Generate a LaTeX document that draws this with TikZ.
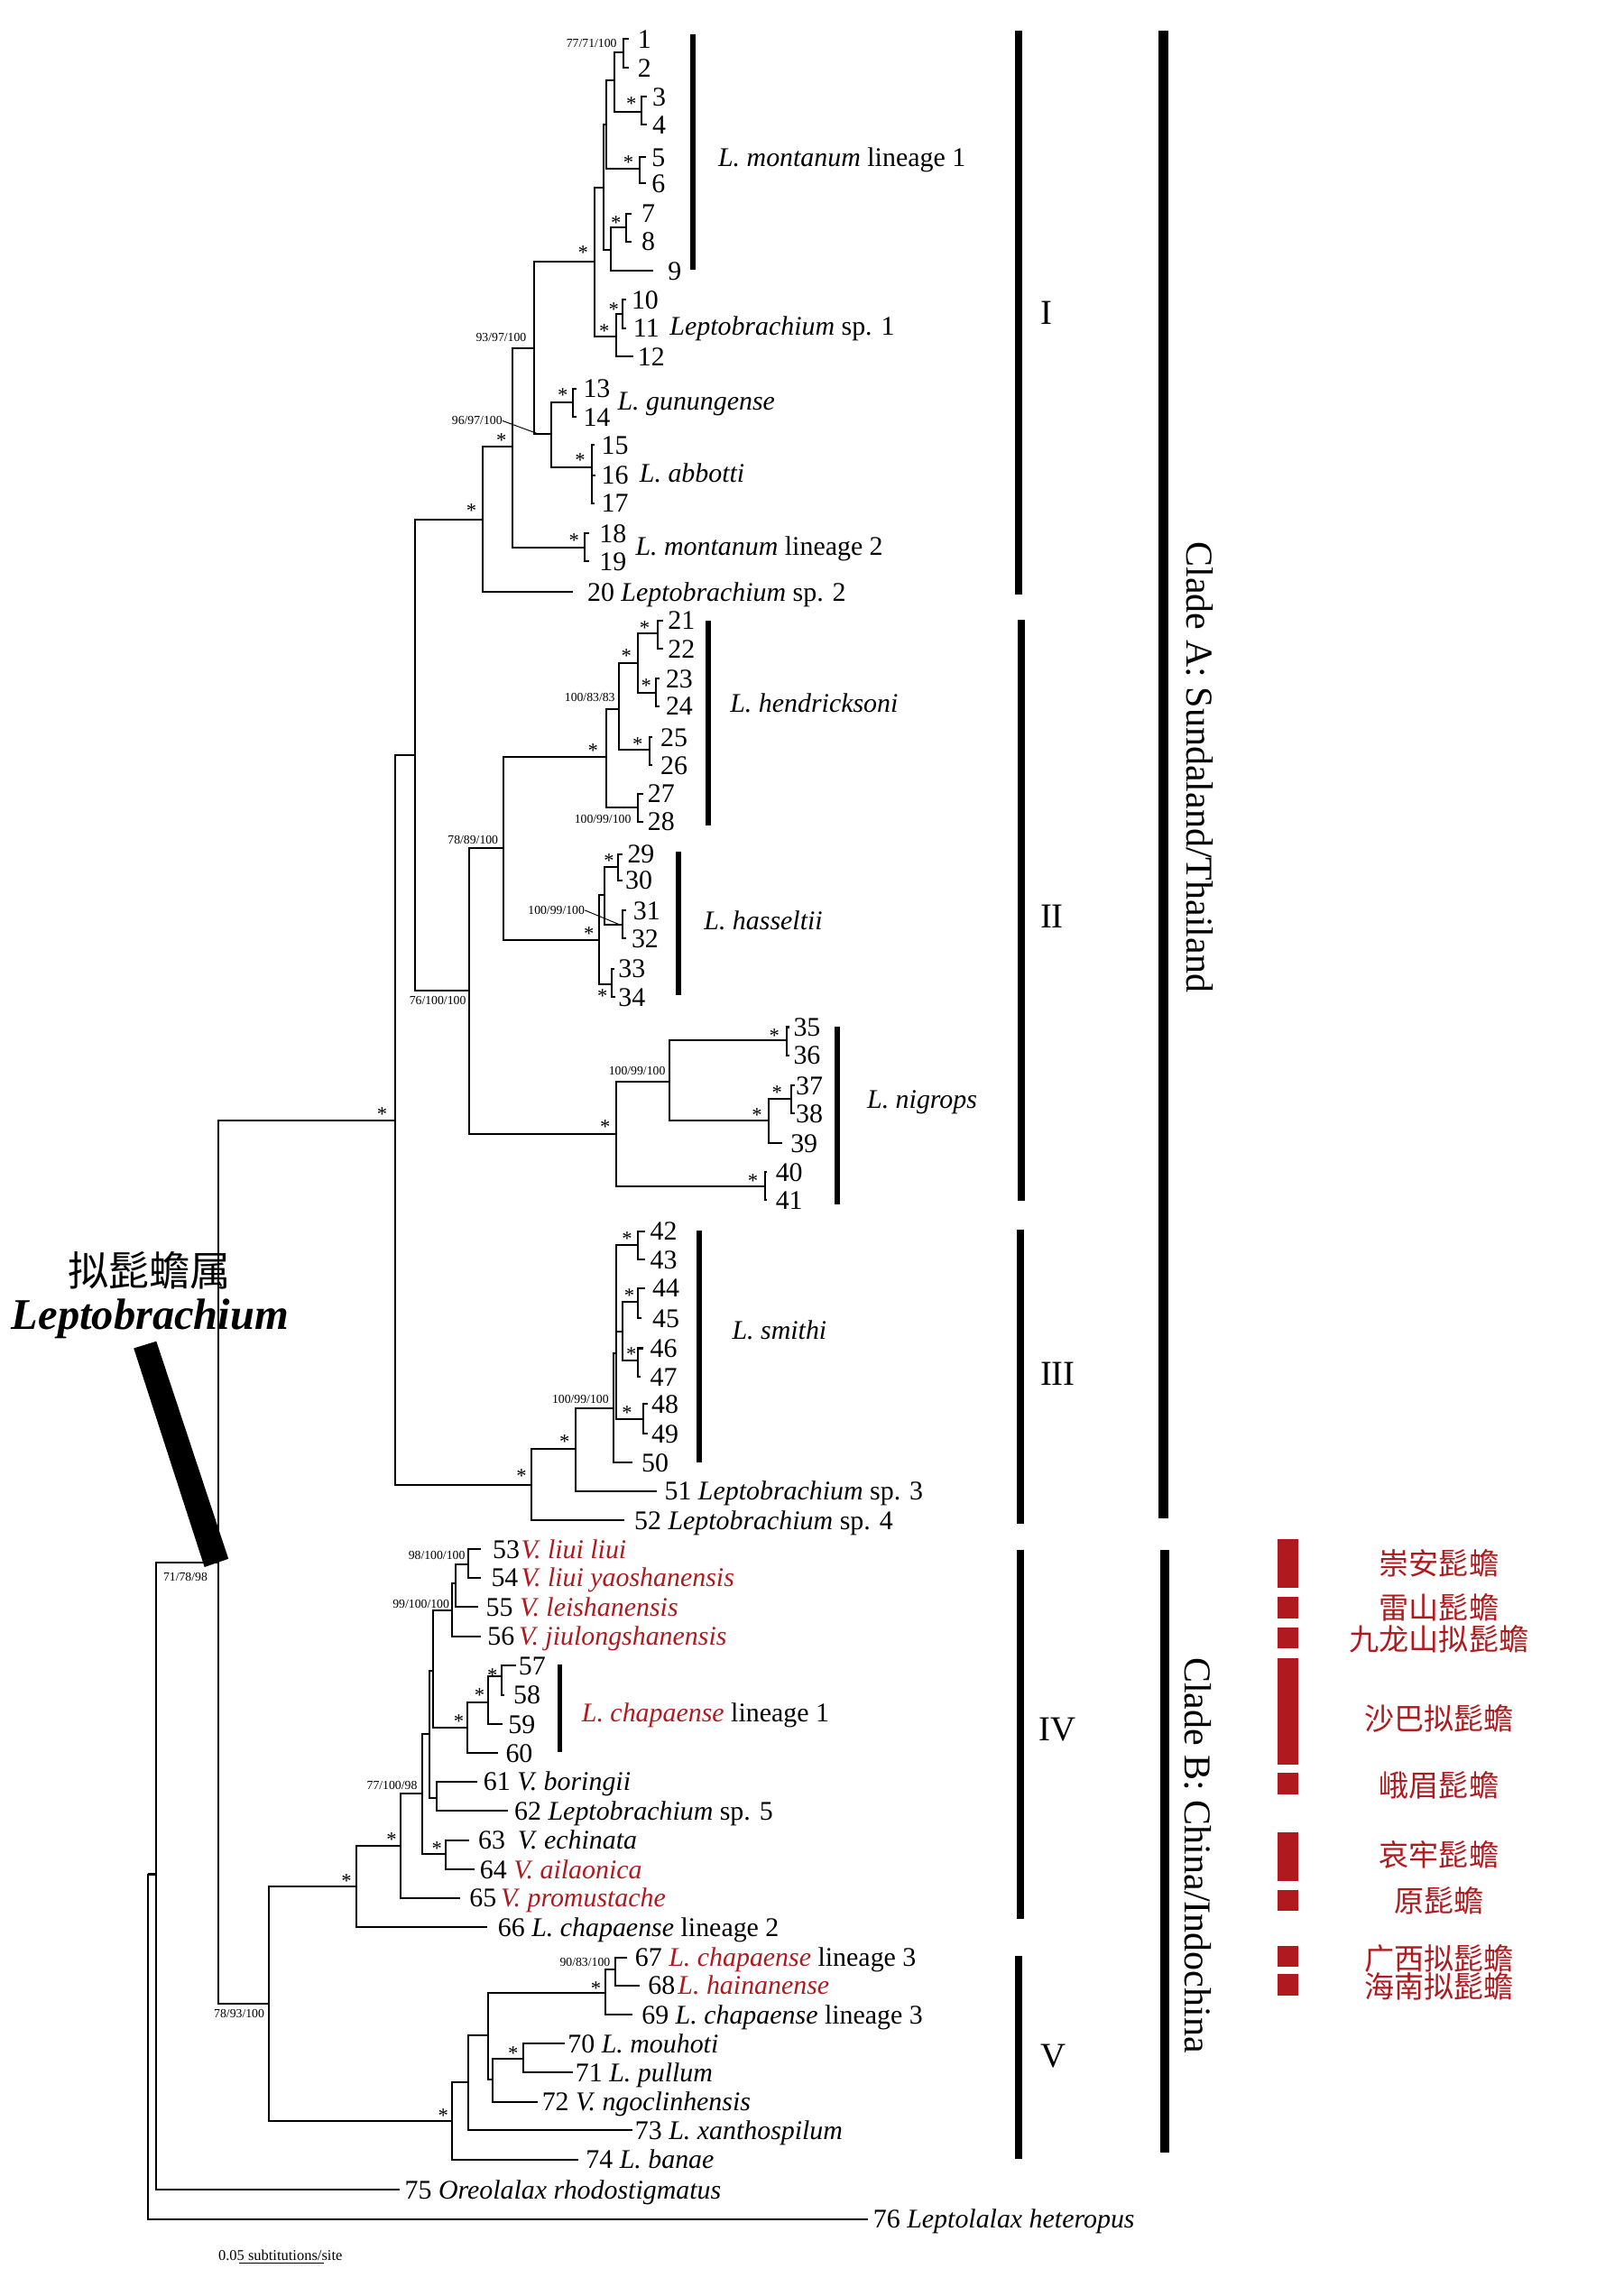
\documentclass[tikz,border=0pt]{standalone}
\usepackage{fontspec}
\setmainfont{Liberation Serif}
\newfontfamily\cjk{Noto Sans CJK SC}
\definecolor{cred}{RGB}{176,26,30}
\begin{document}
\begin{tikzpicture}[x=1pt,y=-1pt,
  branch/.style={line width=1.25pt},
  tiplab/.style={anchor=west,inner sep=0pt,font=\fontsize{18.5}{20}\selectfont,text height=12.5pt,text depth=0pt},
  suplab/.style={anchor=east,inner sep=0pt,font=\fontsize{8.5}{9}\selectfont},
  starlab/.style={inner sep=0pt,font=\fontsize{14}{14}\selectfont,yshift=-2.2pt},
  grpbar/.style={line width=3.6pt},
  cladebar/.style={line width=5pt},
  bigbar/.style={line width=6.6pt},
  cladenum/.style={anchor=west,inner sep=0pt,font=\fontsize{24}{24}\selectfont},
  cladetxt/.style={rotate=-90,inner sep=0pt,font=\fontsize{26}{26}\selectfont},
  redbar/.style={fill=cred,draw=none},
  cnlab/.style={font=\cjk\fontsize{20.5}{21}\selectfont,text=cred,inner sep=0pt},
  leader/.style={line width=0.6pt}]
\useasboundingbox (0,0) rectangle (1113,1568);
\newcommand{\rt}[1]{\textcolor{cred}{\textit{#1}}}

% ---------- genus label and pointer bar ----------
\node[inner sep=0pt,font=\cjk\fontsize{28}{28}\selectfont] (gcn) at (102.5,871) {拟髭蟾属};
\node[inner sep=0pt,font=\fontsize{30}{30}\selectfont\bfseries\itshape] (glat) at (103,904) {Leptobrachium};
\fill (91.7,924.4) -- (107.2,919.6) -- (156.6,1068.7) -- (140.2,1074.4) -- cycle;

% ---------- internal nodes ----------
\coordinate (R) at (101.6,1285);
\coordinate (Ning) at (107,1285);
\coordinate (Lep) at (149.5,1071.3);
\coordinate (CA) at (271.1,768);
\coordinate (CB) at (184.3,1374);
\coordinate (A12) at (284.5,517.8);
\coordinate (AI) at (331.2,356.1);
\coordinate (AII) at (321.6,679.3);
\coordinate (A3) at (364.3,1018.2);
% clade I
\coordinate (n1x19) at (351.4,306.4);
\coordinate (n1x17) at (366,238.8);
\coordinate (n1x12) at (407.4,179.4);
\coordinate (n1x9) at (413.5,128.4);
\coordinate (n1x6) at (415.7,85.6);
\coordinate (n1x4) at (421,55.2);
\coordinate (n1x2) at (427.3,35.9);
\coordinate (n3x4) at (439.7,76.5);
\coordinate (n5x6) at (438.3,115.9);
\coordinate (n7x9) at (418.5,171.1);
\coordinate (n7x8) at (429.5,156);
\coordinate (n10x12) at (422.3,230.5);
\coordinate (n10x11) at (426.7,215.3);
\coordinate (n13x17) at (378.2,297.6);
\coordinate (n13x14) at (392.8,276);
\coordinate (n15x17) at (405.8,320.2);
\coordinate (n18x19) at (401.1,375.4);
% clade II
\coordinate (n21x34) at (345,581.3);
\coordinate (n21x28) at (415.4,519.2);
\coordinate (n21x26) at (424.5,486.1);
\coordinate (n21x24) at (437,454.9);
\coordinate (n21x22) at (450.8,434.2);
\coordinate (n23x24) at (449.4,475.1);
\coordinate (n25x26) at (445.2,514.2);
\coordinate (n27x28) at (437,553.7);
\coordinate (n29x34) at (410.7,644.3);
\coordinate (n29x32) at (414.3,613.6);
\coordinate (n29x30) at (423.7,594.3);
\coordinate (n31x32) at (426.5,633.8);
\coordinate (n33x34) at (419.6,674.6);
\coordinate (n35x41) at (422.3,777.3);
\coordinate (n35x39) at (459,741.4);
\coordinate (n35x36) at (539.6,713.3);
\coordinate (n37x39) at (526.7,768.5);
\coordinate (n37x38) at (542.7,753.3);
\coordinate (n40x41) at (524.5,813.2);
% clade III
\coordinate (n42x51) at (394.7,993.4);
\coordinate (n42x50) at (420.5,965.6);
\coordinate (n42x49) at (422.5,927.5);
\coordinate (n44x47) at (427,913);
\coordinate (n42x43) at (437.6,853.3);
\coordinate (n44x45) at (437.6,892.4);
\coordinate (n46x47) at (437.6,932.6);
\coordinate (n48x49) at (441.2,972.8);
% clade IV
\coordinate (nIV) at (244.6,1293.5);
\coordinate (n53x65) at (274.5,1265.6);
\coordinate (n53x64) at (289.7,1229.8);
\coordinate (n53x62) at (294.3,1188.6);
\coordinate (n63x64) at (305.7,1271);
\coordinate (n53x60) at (296.8,1145.4);
\coordinate (n61x62) at (299.3,1232.5);
\coordinate (n53x56) at (310,1104.1);
\coordinate (n53x55) at (312.1,1085.7);
\coordinate (n53x54) at (321,1072.3);
\coordinate (n57x60) at (320.6,1184.6);
\coordinate (n57x59) at (334.8,1167.1);
\coordinate (n57x58) at (344,1149.4);
% clade V
\coordinate (nV) at (310,1454.3);
\coordinate (n67x73) at (321,1427.5);
\coordinate (n67x72) at (334.8,1395.7);
\coordinate (n70x72) at (337.6,1425.8);
\coordinate (n70x71) at (359,1411.5);
\coordinate (n67x69) at (415,1366.5);
\coordinate (n67x68) at (422.1,1350.4);

% ---------- tips ----------
\foreach \n/\x/\y in {1/431.4/26.8,2/431.4/46.4,3/443.5/66.2,4/443.5/85.6,5/443/107.7,6/443/125.6,
  7/433/146.3,8/433/165.6,9/448/185.5,10/429/205.6,11/429/225,12/434.2/244.3,13/395/266.4,14/395/285.7,
  15/407.5/305,16/408.5/325.7,17/407.5/345,18/404/365.7,19/404/385,20/392.8/405.8,
  21/454.4/425.4,22/454.4/444.7,23/452/465.4,24/452/484.2,25/447.5/505.4,26/447.5/524.7,27/441/544.1,
  28/441/563.4,29/426.5/585.5,30/426.5/603.4,31/429/624.1,32/429/643.4,33/421/664.1,34/422/683.5,
  35/541.5/704.2,36/541.5/723.5,37/545/744.2,38/545/763.5,39/536.3/783.7,40/526/803.5,41/526/822.8,
  42/442.5/844,43/442.5/863.6,44/442.5/883.2,45/439.5/903.8,46/441/924.4,47/439/944,48/444/962.5,
  49/444/983.1,50/433.8/1002.7,51/450/1022.3,52/427.9/1042.5,
  53/329.8/1062.3,54/329.8/1081.7,55/327.7/1101.8,56/329.8/1121.9,57/353.6/1142,58/346/1162.1,
  59/344.7/1182.2,60/341.2/1202,61/327/1221.4,62/348.3/1241.5,63/321.7/1261.7,64/325.2/1281.8,
  65/315.6/1301.2,66/334/1321.3,67/430/1342,68/438.8/1361.2,69/433.5/1381.3,70/387.3/1401,
  71/392.7/1421,72/368.9/1440.9,73/433.5/1460.4,74/396.2/1480.5,75/273.8/1501.2,76/595/1521.4}
  {\coordinate (t\n) at (\x,\y);}

% ---------- branches ----------
\foreach \p/\c in {R/Ning,R/t76,Ning/Lep,Ning/t75,Lep/CA,Lep/CB,CA/A12,CA/A3,A12/AI,A12/AII,
  AI/n1x19,AI/t20,n1x19/n1x17,n1x19/n18x19,n1x17/n1x12,n1x17/n13x17,n1x12/n1x9,n1x12/n10x12,
  n1x9/n1x6,n1x9/n7x9,n1x6/n1x4,n1x6/n5x6,n1x4/n1x2,n1x4/n3x4,n1x2/t1,n1x2/t2,n3x4/t3,n3x4/t4,
  n5x6/t5,n5x6/t6,n7x9/n7x8,n7x9/t9,n7x8/t7,n7x8/t8,n10x12/n10x11,n10x12/t12,n10x11/t10,n10x11/t11,
  n13x17/n13x14,n13x17/n15x17,n13x14/t13,n13x14/t14,n15x17/t15,n15x17/t16,n15x17/t17,
  n18x19/t18,n18x19/t19,
  AII/n21x34,AII/n35x41,n21x34/n21x28,n21x34/n29x34,n21x28/n21x26,n21x28/n27x28,
  n21x26/n21x24,n21x26/n25x26,n21x24/n21x22,n21x24/n23x24,n21x22/t21,n21x22/t22,
  n23x24/t23,n23x24/t24,n25x26/t25,n25x26/t26,n27x28/t27,n27x28/t28,n29x34/n29x32,n29x34/n33x34,
  n29x32/n29x30,n29x32/n31x32,n29x30/t29,n29x30/t30,n31x32/t31,n31x32/t32,n33x34/t33,n33x34/t34,
  n35x41/n35x39,n35x41/n40x41,n35x39/n35x36,n35x39/n37x39,n35x36/t35,n35x36/t36,
  n37x39/n37x38,n37x39/t39,n37x38/t37,n37x38/t38,n40x41/t40,n40x41/t41,
  A3/n42x51,A3/t52,n42x51/n42x50,n42x51/t51,n42x50/n42x49,n42x50/t50,n42x49/n42x43,
  n42x49/n44x47,n42x49/n48x49,n44x47/n44x45,n44x47/n46x47,n42x43/t42,n42x43/t43,
  n44x45/t44,n44x45/t45,n46x47/t46,n46x47/t47,n48x49/t48,n48x49/t49,
  CB/nIV,CB/nV,nIV/n53x65,nIV/t66,n53x65/n53x64,n53x65/t65,n53x64/n53x62,n53x64/n63x64,
  n63x64/t63,n63x64/t64,n53x62/n53x60,n53x62/n61x62,n61x62/t61,n61x62/t62,n53x60/n53x56,
  n53x60/n57x60,n53x56/n53x55,n53x56/t56,n53x55/n53x54,n53x55/t55,n53x54/t53,n53x54/t54,
  n57x60/n57x59,n57x60/t60,n57x59/n57x58,n57x59/t59,n57x58/t57,n57x58/t58,
  nV/n67x73,nV/t74,n67x73/n67x72,n67x73/t73,n67x72/n67x69,n67x72/n70x72,n70x72/n70x71,
  n70x72/t72,n70x71/t70,n70x71/t71,n67x69/n67x68,n67x69/t69,n67x68/t67,n67x68/t68}
  {\draw[branch] (\p) |- (\c);}

% ---------- tip labels ----------
\foreach \n/\x/\y in {1/437/26.8,2/437/46.4,3/447/66.2,4/447/85.6,5/446.6/107.7,6/446.6/125.6,
  7/439.7/146.3,8/439.7/165.6,9/457.7/185.5,10/432.8/205.6,11/434/225,12/437/244.3,
  13/399.7/266.4,14/399.7/285.7,15/412.1/305,16/412.1/325.7,17/412.1/345,18/410.7/365.7,19/410.7/385,
  21/457.7/425.4,22/457.7/444.7,23/456.3/465.4,24/456.3/484.2,25/452.7/505.4,26/452.7/524.7,
  27/443.8/544.1,28/443.8/563.4,29/430/585.5,30/428.5/603.4,31/434/624.1,32/432.8/643.4,
  33/423.7/664.1,34/423.7/683.5,35/543.8/704.2,36/543.8/723.5,37/545.4/744.2,38/545.4/763.5,
  39/541.8/783.7,40/531.6/803.5,41/531.6/822.8,
  42/445.6/844,43/445.6/863.6,44/447.1/883.2,45/447.1/903.8,46/445.6/924.4,47/445.6/944,
  48/446.5/962.5,49/446.5/983.1,50/439.7/1002.7,
  57/355.4/1142,58/351.8/1162.1,59/348.3/1182.2,60/346.5/1202}
  {\node[tiplab] (L\n) at (\x,\y) {\n};}
\node[tiplab] (L20) at (402.5,405.8) {20 \textit{Leptobrachium} sp. 2};
\node[tiplab] (L51) at (455.4,1022.3) {51 \textit{Leptobrachium} sp. 3};
\node[tiplab] (L52) at (434.7,1042.5) {52 \textit{Leptobrachium} sp. 4};
\node[tiplab] (L53) at (337.6,1062.3) {53\kern1pt\rt{V. liui liui}};
\node[tiplab] (L54) at (336.6,1081.7) {54\kern2pt\rt{V. liui yaoshanensis}};
\node[tiplab] (L55) at (333,1101.8) {55 \rt{V. leishanensis}};
\node[tiplab] (L56) at (334,1121.9) {56\kern3pt\rt{V. jiulongshanensis}};
\node[tiplab] (L61) at (331.3,1221.4) {61 \textit{V. boringii}};
\node[tiplab] (L62) at (352.5,1241.5) {62 \textit{Leptobrachium} sp. 5};
\node[tiplab] (L63) at (327.7,1261.7) {63\kern8.5pt\textit{V. echinata}};
\node[tiplab] (L64) at (328.8,1281.8) {64 \rt{V. ailaonica}};
\node[tiplab] (L65) at (321.7,1301.2) {65\kern3pt\rt{V. promustache}};
\node[tiplab] (L66) at (341.2,1321.3) {66 \textit{L. chapaense} lineage 2};
\node[tiplab] (L67) at (435.2,1342) {67 \rt{L. chapaense} lineage 3};
\node[tiplab] (L68) at (444.1,1361.2) {68\kern2pt\rt{L. hainanense}};
\node[tiplab] (L69) at (439.8,1381.3) {69 \textit{L. chapaense} lineage 3};
\node[tiplab] (L70) at (389.1,1401) {70 \textit{L. mouhoti}};
\node[tiplab] (L71) at (394.4,1421) {71 \textit{L. pullum}};
\node[tiplab] (L72) at (371.4,1440.9) {72 \textit{V. ngoclinhensis}};
\node[tiplab] (L73) at (435.2,1460.4) {73 \textit{L. xanthospilum}};
\node[tiplab] (L74) at (401.5,1480.5) {74 \textit{L. banae}};
\node[tiplab] (L75) at (277.3,1501.2) {75 \textit{Oreolalax rhodostigmatus}};
\node[tiplab] (L76) at (598.5,1521.4) {76 \textit{Leptolalax heteropus}};

% ---------- group labels ----------
\node[tiplab] (G1) at (492.2,107.7) {\textit{L. montanum} lineage 1};
\node[tiplab] (G2) at (459,223.6) {\textit{Leptobrachium} sp. 1};
\node[tiplab] (G3) at (423.2,274.6) {\textit{L. gunungense}};
\node[tiplab] (G4) at (438.3,324.3) {\textit{L. abbotti}};
\node[tiplab] (G5) at (435.6,374.6) {\textit{L. montanum} lineage 2};
\node[tiplab] (G6) at (500.4,482) {\textit{L. hendricksoni}};
\node[tiplab] (G7) at (482.5,631) {\textit{L. hasseltii}};
\node[tiplab] (G8) at (594.3,753.8) {\textit{L. nigrops}};
\node[tiplab] (G9) at (501.8,912) {\textit{L. smithi}};
\node[tiplab] (G10) at (398.7,1174.5) {\rt{L. chapaense} lineage 1};

% ---------- group bars ----------
\foreach \i/\x/\ya/\yb in {1/475/23.5/185,2/485.8/425.4/566.1,3/465.1/584/682.1,4/574.1/704.2/825.6,
  5/479.6/843.4/1002.7,6/383.8/1141/1201.3}
  {\coordinate (ga\i) at (\x,\ya); \coordinate (gb\i) at (\x,\yb); \draw[grpbar] (ga\i) -- (gb\i);}

% ---------- clade bars ----------
\foreach \i/\x/\ya/\yb in {1/698.5/21.3/407.6,2/700.3/425/823,3/699.7/843/1045,4/699.7/1062.6/1315.7,5/698.5/1340.8/1480}
  {\coordinate (ca\i) at (\x,\ya); \coordinate (cb\i) at (\x,\yb); \draw[cladebar] (ca\i) -- (cb\i);}
\node[cladenum] (cI) at (713.5,214.5) {I};
\node[cladenum] (cII) at (713,628) {II};
\node[cladenum] (cIII) at (713,942) {III};
\node[cladenum] (cIV) at (712,1186) {IV};
\node[cladenum] (cV) at (713.5,1410) {V};
\coordinate (bAa) at (797.5,21.3); \coordinate (bAb) at (797.5,1041);
\coordinate (bBa) at (798.5,1062.6); \coordinate (bBb) at (798.5,1476);
\draw[bigbar] (bAa) -- (bAb);
\draw[bigbar] (bBa) -- (bBb);
\node[cladetxt] (cladeA) at (822.5,526) {Clade A: Sundaland/Thailand};
\node[cladetxt] (cladeB) at (821.5,1272) {Clade B: China/Indochina};

% ---------- red bars and Chinese names ----------
\foreach \ya/\yb in {1055/1088.5,1095/1109.5,1116/1130,1137/1210,1215.5/1230,1256/1289.5,1296/1310,1334/1348.5,1353.5/1368}
  {\fill[redbar] (875.9,\ya) rectangle (890.3,\yb);}
\node[cnlab] (cn1) at (986.5,1072) {崇安髭蟾};
\node[cnlab] (cn2) at (986.5,1102) {雷山髭蟾};
\node[cnlab] (cn3) at (986.5,1124) {九龙山拟髭蟾};
\node[cnlab] (cn4) at (986.5,1178.5) {沙巴拟髭蟾};
\node[cnlab] (cn5) at (986.5,1224) {峨眉髭蟾};
\node[cnlab] (cn6) at (986.5,1271.5) {哀牢髭蟾};
\node[cnlab] (cn7) at (986.5,1303) {原髭蟾};
\node[cnlab] (cn8) at (986.5,1343) {广西拟髭蟾};
\node[cnlab] (cn9) at (986.5,1362) {海南拟髭蟾};

% ---------- asterisks ----------
\foreach \x/\y [count=\k] in {432.8/69,430.9/109,422.3/150.4,420.7/209.8,414.3/225,399.7/171,385.9/269,
  397.8/313.3,393.6/368.5,343.7/299.5,323.2/347.8,
  441.9/428.1,429.5/447.4,443/468.2,437.2/508.2,406.6/512.3,417.6/588.2,403.8/637.9,413/680.7,
  414.9/770.4,530.8/707.7,519/762.1,532.7/746.9,516.2/807.7,
  429.9/847.1,431.4/886.2,432.9/926.4,429.9/966.6,387/986.2,357.5/1009.9,262/762,
  237.5/1287.4,268.4/1259,299.6/1265.3,314.6/1177.9,328.8/1160.1,337.6/1146.7,
  303.9/1448.3,351.8/1405.7,408.6/1361.2}
  {\node[starlab] (st\k) at (\x,\y) {*};}

% ---------- support values ----------
\node[suplab] (s1) at (423,29.8) {77/71/100};
\node[suplab] (s2) at (361,231.3) {93/97/100};
\node[suplab] (s3) at (344.5,288.5) {96/97/100};
\node[suplab] (s4) at (421.8,478.4) {100/83/83};
\node[suplab] (s5) at (432.8,561.4) {100/99/100};
\node[suplab] (s6) at (341.7,575.8) {78/89/100};
\node[suplab] (s7) at (401,624.1) {100/99/100};
\node[suplab] (s8) at (319.6,686.2) {76/100/100};
\node[suplab] (s9) at (456.3,734.5) {100/99/100};
\node[suplab] (s10) at (417.5,959.4) {100/99/100};
\node[suplab] (s11) at (319,1066.3) {98/100/100};
\node[suplab] (s12) at (308.2,1099.8) {99/100/100};
\node[suplab] (s13) at (142.4,1081.4) {71/78/98};
\node[suplab] (s14) at (286.2,1224) {77/100/98};
\node[suplab] (s15) at (418.5,1345.4) {90/83/100};
\node[suplab] (s16) at (181.4,1380.6) {78/93/100};
\coordinate (ld3) at (369.3,297.6);
\coordinate (ld7) at (424.5,633.8);
\draw[leader] (s3.east) -- (ld3);
\draw[leader] (s7.east) -- (ld7);

% ---------- scale bar ----------
\node[anchor=west,inner sep=0pt,font=\fontsize{10.2}{11}\selectfont] (scl) at (149.5,1546.5) {0.05 subtitutions/site};
\coordinate (sba) at (163.7,1551.5); \coordinate (sbb) at (222.3,1551.5);
\draw[line width=0.9pt] (sba) -- (sbb);
\end{tikzpicture}
\end{document}
